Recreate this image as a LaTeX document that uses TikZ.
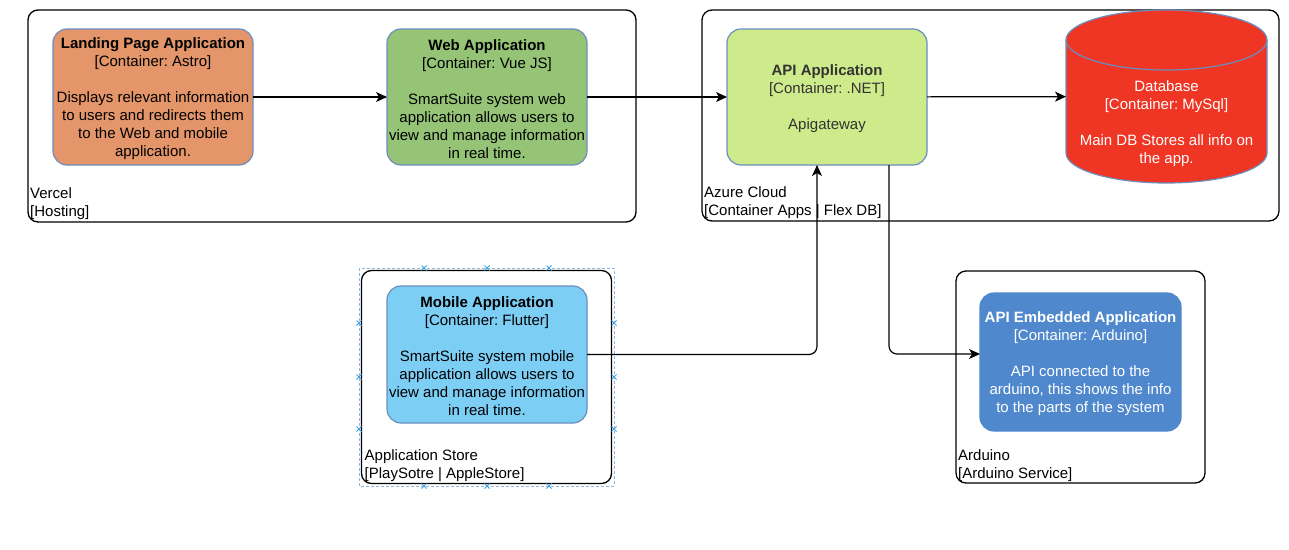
\documentclass[tikz,border=0pt]{standalone}
\usepackage{fontspec}
\setmainfont{Liberation Sans}
\usetikzlibrary{arrows.meta}
\definecolor{cardborder}{HTML}{6C8EBF}
\definecolor{landfill}{HTML}{E4956A}
\definecolor{webfill}{HTML}{95C477}
\definecolor{apifill}{HTML}{CDEB8B}
\definecolor{dbfill}{HTML}{EF3524}
\definecolor{mobfill}{HTML}{7DCEF4}
\definecolor{embfill}{HTML}{5088CD}
\definecolor{apitext}{HTML}{333333}
\definecolor{selblue}{HTML}{8DB8E6}
\definecolor{selmark}{HTML}{3FA3E3}
\newcommand{\topstrut}{\rule{0pt}{15pt}}
\frenchspacing
\begin{document}
\begin{tikzpicture}[x=1pt,y=-1pt,
  every node/.style={font=\fontsize{15}{18}\selectfont\frenchspacing},
  frame/.style={draw=black, line width=1.3pt, rounded corners=10pt, inner sep=0pt, outer sep=0pt},
  card/.style={draw=cardborder, line width=1.2pt, rounded corners=14pt, inner sep=0pt, outer sep=0pt, align=center},
  lbl/.style={anchor=south west, align=left, inner sep=0pt},
  arr/.style={draw=black, line width=1.2pt, -{Stealth[length=11pt,width=10pt,inset=3pt]}},
  selbox/.style={draw=selblue, line width=0.8pt, dash pattern=on 3pt off 2pt},
  selx/.style={draw=selmark, line width=0.9pt},
]
\useasboundingbox[fill=white] (0,0) rectangle (1289,549);

% containers
\node[frame, minimum width=608pt, minimum height=212pt] (vercel) at (332,116) {};
\node[frame, minimum width=577pt, minimum height=211pt] (azure) at (990.5,115.5) {};
\node[frame, minimum width=250pt, minimum height=213pt] (store) at (486.5,377) {};
\node[frame, minimum width=249pt, minimum height=212pt] (arduino) at (1080.5,377) {};

% selection artefact around the store container
\draw[selbox] (359,268) rectangle (614,486);
\foreach \px/\py in {424/268,487/268,549/268,424/486,487/486,549/486,359/323,359/377,359/429,614/323,614/377,614/429}
  \draw[selx] (\px-2.5,\py-2.5) -- (\px+2.5,\py+2.5) (\px-2.5,\py+2.5) -- (\px+2.5,\py-2.5);

% container labels
\node[lbl] (vercellbl) at ([xshift=2pt,yshift=2pt]vercel.south west) {Vercel\\{}[Hosting]};
\node[lbl] (azurelbl) at ([xshift=2pt,yshift=2pt]azure.south west) {Azure Cloud\\{}[Container Apps | Flex DB]};
\node[lbl] (storelbl) at ([xshift=3pt,yshift=2pt]store.south west) {Application Store\\{}[PlaySotre | AppleStore]};
\node[lbl] (arduinolbl) at ([xshift=2pt,yshift=1pt]arduino.south west) {Arduino\\{}[Arduino Service]};

% cards
\node[card, fill=landfill, minimum width=200pt, minimum height=136pt] (landing) at (153,97)
  {\topstrut\textbf{Landing Page Application}\\{}[Container: Astro]\\[18pt]Displays relevant information\\to users and redirects them\\to the Web and mobile\\application.};
\node[card, fill=webfill, minimum width=200pt, minimum height=136pt] (web) at (487,97)
  {\topstrut\textbf{Web Application}\\{}[Container: Vue JS]\\[18pt]SmartSuite system web\\application allows users to\\view and manage information\\in real time.};
\node[card, fill=apifill, text=apitext, minimum width=200pt, minimum height=136pt] (api) at (827,97)
  {\topstrut\textbf{API Application}\\{}[Container: .NET]\\[18pt]Apigateway};
\node[card, fill=mobfill, minimum width=200pt, minimum height=137pt] (mobile) at (487,354.5)
  {\topstrut\textbf{Mobile Application}\\{}[Container: Flutter]\\[18pt]SmartSuite system mobile\\application allows users to\\view and manage information\\in real time.};
\node[card, draw=embfill, fill=embfill, text=white, minimum width=201pt, minimum height=138pt] (embedded) at (1080.5,362)
  {\topstrut\textbf{API Embedded Application}\\{}[Container: Arduino]\\[18pt]API connected to the\\arduino, this shows the info\\to the parts of the system};

% database cylinder
\node[inner sep=0pt, outer sep=0pt, minimum width=201pt, minimum height=173pt] (db) at (1166.5,96.5) {};
\path[draw=cardborder, fill=dbfill, line width=1.2pt]
  (db.west |- 0,40) -- (db.west |- 0,153)
  arc[start angle=180, end angle=360, x radius=100.5pt, y radius=30pt]
  -- (db.east |- 0,40)
  arc[start angle=0, end angle=180, x radius=100.5pt, y radius=30pt] -- cycle;
\draw[draw=cardborder, line width=1.2pt] (db.east |- 0,40)
  arc[start angle=0, end angle=-180, x radius=100.5pt, y radius=30pt];
\node[align=center, text=white, inner sep=0pt] (dbtext) at (1166.5,124)
  {Database\\{}[Container: MySql]\\[18pt]Main DB Stores all info on\\the app.};

% connectors
\draw[arr] (landing) -- (web);
\draw[arr] (web) -- (api);
\draw[arr] (api) -- (db);
\draw[arr, rounded corners=8pt] (mobile.east) -| ([xshift=-10pt]api.south);
\draw[arr, rounded corners=8pt] ([xshift=62pt]api.south) |- ([yshift=8pt]embedded.west);
\end{tikzpicture}
\end{document}
